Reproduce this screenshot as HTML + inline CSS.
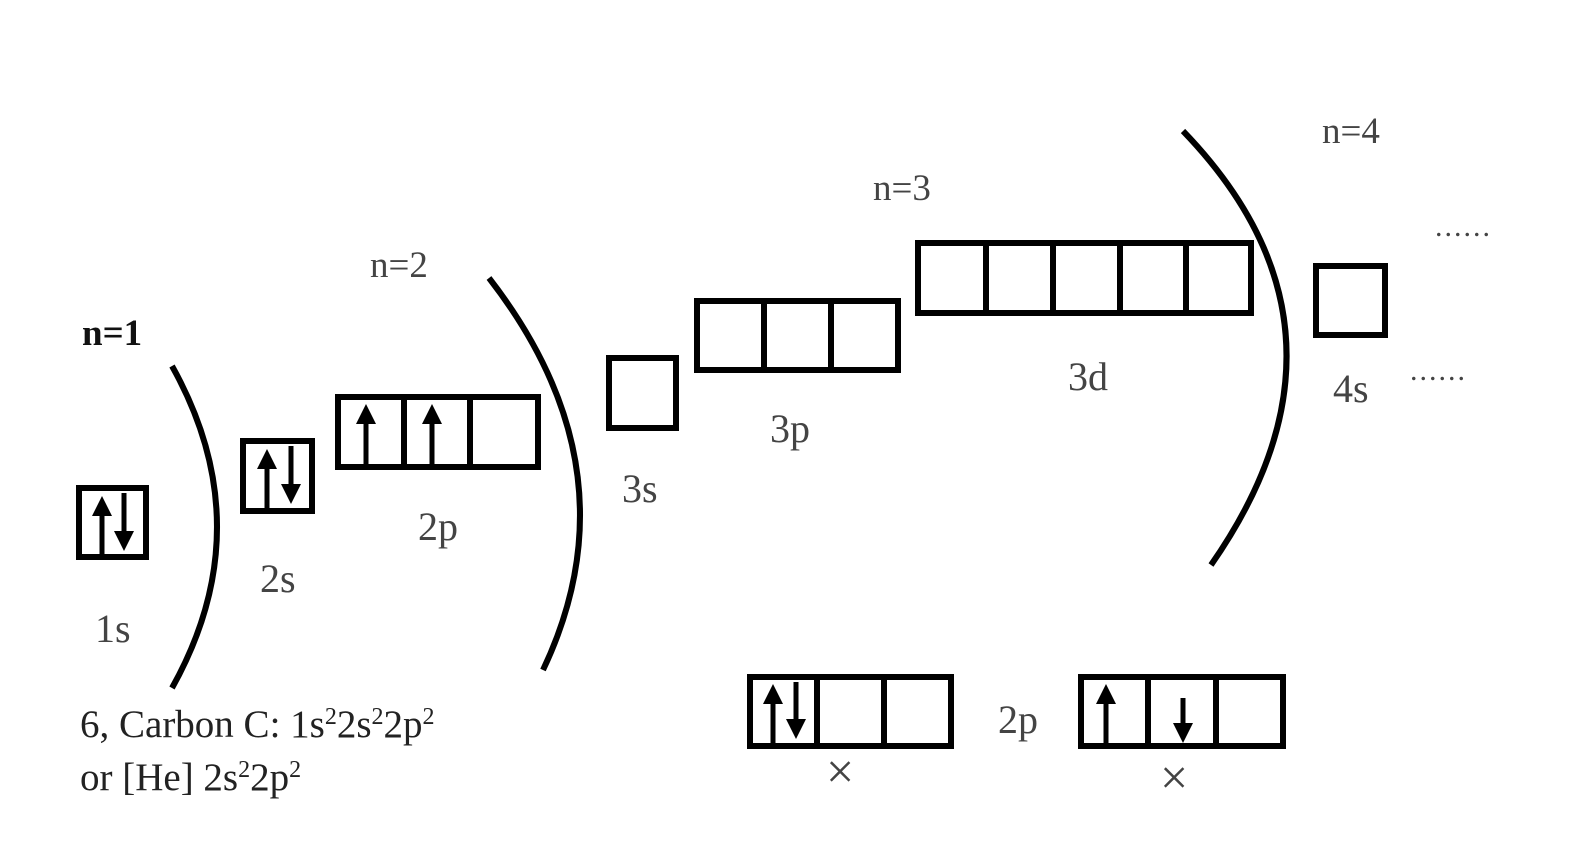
<!DOCTYPE html>
<html><head><style>
html,body{margin:0;padding:0;background:#fff;}
svg{display:block}
text{font-family:"Liberation Serif",serif;fill:#444;}
</style></head><body>
<svg width="1594" height="850" viewBox="0 0 1594 850" xmlns="http://www.w3.org/2000/svg">
<defs>
<marker id="ah" markerWidth="4" markerHeight="4" refX="2" refY="2" orient="auto" markerUnits="strokeWidth">
<path d="M0,0 L4,2 L0,4 z" fill="#000"/></marker>
</defs>
<g fill="none" stroke="#000" stroke-width="6">
<path d="M172,366 Q262,527 172,688"/>
<path d="M489,278 Q638,470 543,670"/>
<path d="M1183,131 Q1375,330 1211,565"/>
<rect x="79" y="488" width="67" height="69"/>
<rect x="243" y="441" width="69" height="70"/>
<rect x="338" y="397" width="200" height="70"/>
<line x1="404" y1="397" x2="404" y2="467"/><line x1="470" y1="397" x2="470" y2="467"/>
<rect x="609" y="358" width="67" height="70"/>
<rect x="697" y="301" width="201" height="69"/>
<line x1="764" y1="301" x2="764" y2="370"/><line x1="831" y1="301" x2="831" y2="370"/>
<rect x="918" y="243" width="333" height="70"/>
<line x1="986" y1="243" x2="986" y2="313"/><line x1="1053" y1="243" x2="1053" y2="313"/>
<line x1="1120" y1="243" x2="1120" y2="313"/><line x1="1186" y1="243" x2="1186" y2="313"/>
<rect x="1316" y="266" width="69" height="69"/>
<rect x="750" y="677" width="201" height="69"/>
<line x1="817" y1="677" x2="817" y2="746"/><line x1="884" y1="677" x2="884" y2="746"/>
<rect x="1081" y="677" width="202" height="69"/>
<line x1="1148" y1="677" x2="1148" y2="746"/><line x1="1216" y1="677" x2="1216" y2="746"/>
</g>
<g stroke="#000" stroke-width="5" marker-end="url(#ah)">
<line x1="102" y1="555" x2="102" y2="506"/>
<line x1="124" y1="493" x2="124" y2="541"/>
<line x1="267" y1="509" x2="267" y2="459"/>
<line x1="291" y1="446" x2="291" y2="494"/>
<line x1="366" y1="465" x2="366" y2="414"/>
<line x1="432" y1="465" x2="432" y2="414"/>
<line x1="773" y1="744" x2="773" y2="694"/>
<line x1="796" y1="682" x2="796" y2="729"/>
<line x1="1106" y1="744" x2="1106" y2="694"/>
<line x1="1183" y1="698" x2="1183" y2="733"/>
</g>
<text x="82" y="345" font-size="37" font-weight="bold" style="fill:#111">n=1</text>
<text x="370" y="277" font-size="37">n=2</text>
<text x="873" y="200" font-size="37">n=3</text>
<text x="1322" y="143" font-size="37">n=4</text>
<text x="95" y="642" font-size="40">1s</text>
<text x="260" y="592" font-size="40">2s</text>
<text x="418" y="540" font-size="40">2p</text>
<text x="622" y="502" font-size="40">3s</text>
<text x="770" y="442" font-size="40">3p</text>
<text x="1068" y="390" font-size="40">3d</text>
<text x="1333" y="402" font-size="40">4s</text>
<text x="998" y="733" font-size="40">2p</text>
<text x="1435" y="236" font-size="30" letter-spacing="2">......</text>
<text x="1410" y="380" font-size="30" letter-spacing="2">......</text>
<text x="826" y="788" font-size="50">×</text>
<text x="1160" y="794" font-size="50">×</text>
<text x="80" y="737" font-size="39" style="fill:#222">6, Carbon C: 1s<tspan font-size="24" dy="-13">2</tspan><tspan dy="13">2s</tspan><tspan font-size="24" dy="-13">2</tspan><tspan dy="13">2p</tspan><tspan font-size="24" dy="-13">2</tspan></text>
<text x="80" y="790" font-size="39" style="fill:#222">or [He] 2s<tspan font-size="24" dy="-13">2</tspan><tspan dy="13">2p</tspan><tspan font-size="24" dy="-13">2</tspan></text>
</svg>
</body></html>
